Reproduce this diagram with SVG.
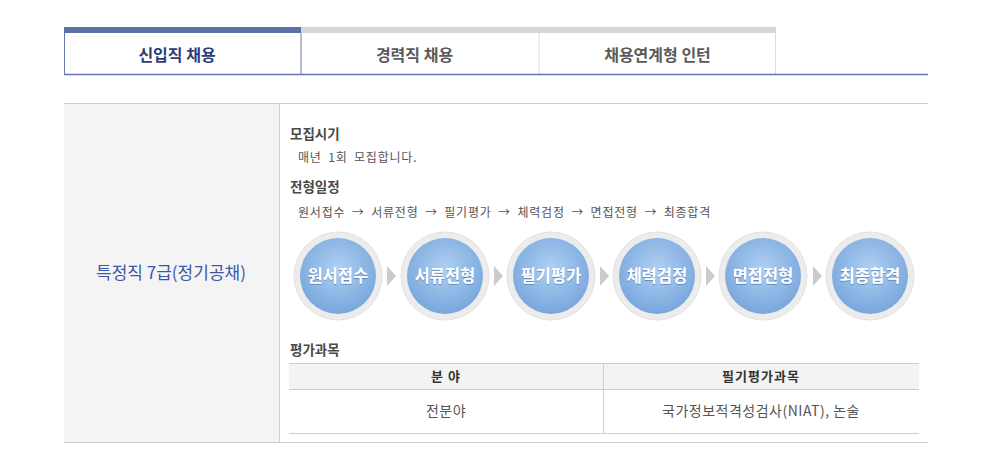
<svg xmlns="http://www.w3.org/2000/svg" width="986" height="473" viewBox="0 0 986 473">
<defs>
<style>
text{font-family:"Noto Sans CJK KR","Noto Sans",sans-serif;}
.tabon{font-size:16px;font-weight:bold;fill:#2c3d78;text-anchor:middle;}
.taboff{font-size:16px;font-weight:bold;fill:#5a5a5a;text-anchor:middle;}
.h{font-size:13.5px;font-weight:bold;fill:#4a4a4a;}
.b{font-size:12px;fill:#555;word-spacing:3px;letter-spacing:0.8px;}
.cl{font-size:16.5px;font-weight:bold;fill:#fff;text-anchor:middle;filter:url(#ts);}
.th{font-size:13px;font-weight:bold;fill:#333;text-anchor:middle;letter-spacing:1px;}
.td{font-size:14px;fill:#555;text-anchor:middle;letter-spacing:0.5px;}
.ring{fill:#ececec;stroke:#e2e2e2;stroke-width:1;}
.disc{fill:url(#bg);}
.arr{fill:#cbcbcb;}
.line{stroke:#cfcfcf;stroke-width:1;fill:none;}
</style>
<radialGradient id="bg" cx="50%" cy="40%" r="60%">
<stop offset="0" stop-color="#afd0f2"/>
<stop offset="1" stop-color="#78a6dc"/>
</radialGradient>
<filter id="ts" x="-10%" y="-20%" width="120%" height="140%">
<feDropShadow dx="0" dy="1" stdDeviation="0.6" flood-color="#3d6aa8" flood-opacity="0.6"/>
</filter>
</defs>
<rect width="986" height="473" fill="#fff"/>

<!-- tabs -->
<g id="tab1">
<rect x="64.5" y="32.5" width="236.5" height="42" fill="#fff" stroke="#6679aa"/>
<rect x="64" y="27" width="237.5" height="6" fill="#5d70a6"/>
<text class="tabon" x="177" y="61">신입직 채용</text>
</g>
<g id="tab2">
<rect x="301" y="27" width="238" height="6" fill="#d6d6d6"/>
<line x1="539" y1="33" x2="539" y2="74" stroke="#dcdcdc"/>
<text class="taboff" x="414.5" y="61">경력직 채용</text>
</g>
<g id="tab3">
<rect x="539" y="27" width="237" height="6" fill="#d6d6d6"/>
<line x1="775.5" y1="33" x2="775.5" y2="74" stroke="#dcdcdc"/>
<text class="taboff" x="657.5" y="61">채용연계형 인턴</text>
</g>
<line x1="64" y1="74.5" x2="928" y2="74.5" stroke="#6679aa" stroke-width="1.5"/>

<!-- content frame -->
<g id="frame">
<rect x="64" y="103" width="215" height="340" fill="#f4f4f4"/>
<line class="line" x1="64" y1="103.5" x2="928" y2="103.5"/>
<line class="line" x1="64" y1="442.5" x2="928" y2="442.5"/>
<line class="line" x1="279.5" y1="103" x2="279.5" y2="443"/>
</g>

<g id="title">
<text x="171" y="279" font-size="17" fill="#3d57a6" text-anchor="middle">특정직 7급(정기공채)</text>
</g>

<g id="info">
<text class="h" x="290" y="139">모집시기</text>
<text class="b" x="298" y="162">매년 1회 모집합니다.</text>
<text class="h" x="290" y="192">전형일정</text>
<text class="b" x="298" y="217">원서접수 → 서류전형 → 필기평가 → 체력검정 → 면접전형 → 최종합격</text>
</g>

<!-- process circles -->
<g id="step1"><circle class="ring" cx="338" cy="276" r="44"/><circle class="disc" cx="338" cy="276" r="38"/><text class="cl" x="338" y="282">원서접수</text></g>
<g id="step2"><circle class="ring" cx="445" cy="276" r="44"/><circle class="disc" cx="445" cy="276" r="38"/><text class="cl" x="445" y="282">서류전형</text></g>
<g id="step3"><circle class="ring" cx="551" cy="276" r="44"/><circle class="disc" cx="551" cy="276" r="38"/><text class="cl" x="551" y="282">필기평가</text></g>
<g id="step4"><circle class="ring" cx="657" cy="276" r="44"/><circle class="disc" cx="657" cy="276" r="38"/><text class="cl" x="657" y="282">체력검정</text></g>
<g id="step5"><circle class="ring" cx="763" cy="276" r="44"/><circle class="disc" cx="763" cy="276" r="38"/><text class="cl" x="763" y="282">면접전형</text></g>
<g id="step6"><circle class="ring" cx="870" cy="276" r="44"/><circle class="disc" cx="870" cy="276" r="38"/><text class="cl" x="870" y="282">최종합격</text></g>

<g id="connectors">
<polygon class="arr" points="387,266 396,276 387,286"/>
<polygon class="arr" points="494,266 503,276 494,286"/>
<polygon class="arr" points="600,266 609,276 600,286"/>
<polygon class="arr" points="706,266 715,276 706,286"/>
<polygon class="arr" points="813,266 822,276 813,286"/>
</g>

<!-- table -->
<g id="subjects">
<text class="h" x="290" y="355">평가과목</text>
<rect x="289" y="363" width="630" height="26" fill="#f3f3f3"/>
<line class="line" x1="289" y1="363.5" x2="919" y2="363.5"/>
<line class="line" x1="289" y1="389.5" x2="919" y2="389.5"/>
<line class="line" x1="289" y1="433.5" x2="919" y2="433.5"/>
<line class="line" x1="603.5" y1="363" x2="603.5" y2="433"/>
<text class="th" x="446" y="381">분 야</text>
<text class="th" x="761" y="381">필기평가과목</text>
<text class="td" x="446" y="416">전분야</text>
<text class="td" x="761" y="416">국가정보적격성검사(NIAT), 논술</text>
</g>
</svg>
